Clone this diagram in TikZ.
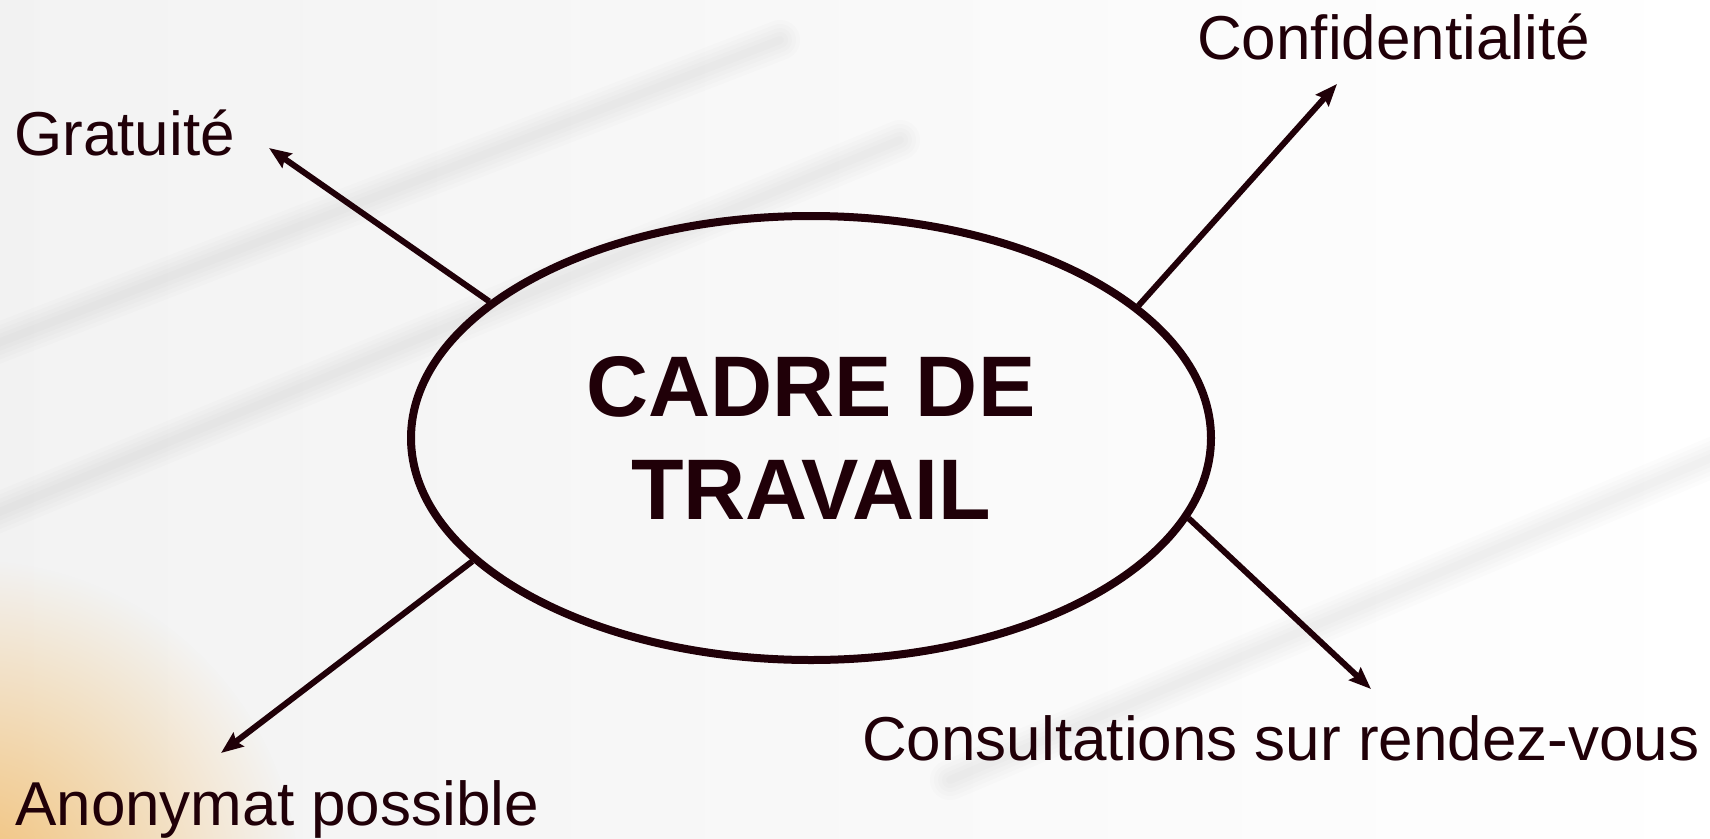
\documentclass[tikz,border=0pt]{standalone}
\usepackage{fontspec}
\setmainfont{Liberation Sans}
\usetikzlibrary{shapes.geometric,arrows.meta,fadings}
\definecolor{ink}{RGB}{32,0,8}
\definecolor{sand}{RGB}{242,192,116}
\tikzfading[name=cornerfade, inner color=transparent!0, outer color=transparent!100]

\begin{document}
\begin{tikzpicture}[x=1pt, y=-1pt,
    frame/.style={ellipse, draw=ink, line width=8pt, minimum width=800pt, minimum height=444pt, inner sep=0pt, align=center, text=ink, font=\bfseries\fontsize{86}{103}\selectfont},
    feature/.style={anchor=base west, inner sep=0pt, text=ink, font=\fontsize{62}{74}\selectfont},
    link/.style={draw=ink, line width=6pt, -{Stealth[length=22pt, width=17pt, inset=3pt]}},
    streak/.style={gray, opacity=0.025, line cap=round}]
      % Background
      \useasboundingbox (0,0) rectangle (1710,838);
      \begin{scope}
        \clip (0,0) rectangle (1710,838);
        \shade[left color=gray!10, right color=white] (0,0) rectangle (1710,838);
        \foreach \w in {8,16,24,32,40} {
          \draw[streak, line width=\w pt] (-20,350) -- (780,40);
          \draw[streak, line width=\w pt] (-20,520) -- (900,140);
          \draw[streak, line width=\w pt] (950,780) -- (1730,450);
        }
        \fill[sand, path fading=cornerfade] (-30,890) circle (330);
      \end{scope}

      % Nodes
      \node[frame] at (811, 438) (cadre) {CADRE DE\\TRAVAIL};
      \node[feature] at (14, 155) (grat) {Gratuité};
      \node[feature] at (1197, 59) (conf) {Confidentialité};
      \node[feature] at (15, 825) (anon) {Anonymat possible};
      \node[feature] at (862, 760) (cons) {Consultations sur rendez-vous};

      % Arrow ends
      \coordinate (tgrat) at (269, 148);
      \coordinate (tconf) at (1337, 84);
      \coordinate (tanon) at (221, 753);
      \coordinate (tcons) at (1371, 689);

      \draw[link] (cadre.157.2) -- (tgrat);
      \draw[link] (cadre.22.8) -- (tconf);
      \draw[link] (cadre.200.3) -- (tanon);
      \draw[link] (cadre.348.1) -- (tcons);
    \end{tikzpicture}
\end{document}
